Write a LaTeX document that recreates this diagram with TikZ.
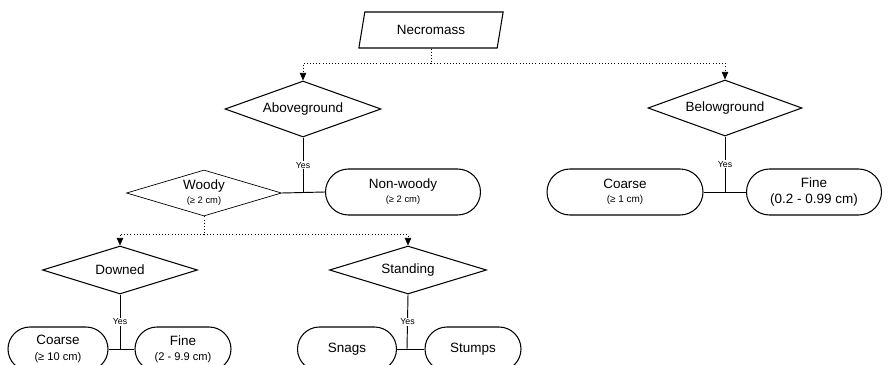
\documentclass[tikz,border=0pt]{standalone}
\usepackage{fontspec}
\setmainfont{Liberation Sans}
\usetikzlibrary{shapes.geometric,shapes.misc,arrows.meta}

\begin{document}
\begin{tikzpicture}[x=0.03cm,y=-0.03cm]

  \tikzset{dia/.style={draw, diamond, aspect=3, inner sep=0pt, line width=0.9pt, font=\fontsize{11.5}{13}\selectfont},
           term/.style={draw, rounded rectangle, inner sep=0pt, line width=0.9pt, align=center, font=\fontsize{11.5}{13}\selectfont},
           yes/.style={fill=white, inner sep=0.8pt, font=\fontsize{7.5}{8}\selectfont},
           flow/.style={dotted, line width=0.7pt},
           link/.style={line width=0.8pt},
           arr/.style={-{Triangle[length=6.5pt,width=5.5pt]}}}
  \useasboundingbox (0,0) rectangle (890,365);
%% Nodes
        \node[draw, trapezium, trapezium left angle=72, trapezium right angle=108, trapezium stretches, line width=0.9pt,
              minimum width=145*0.03cm, minimum height=36*0.03cm, inner sep=0pt, font=\fontsize{11.5}{13}\selectfont] (necro) at (431,30) {Necromass};
        \node[dia, minimum width=156*0.03cm, minimum height=56*0.03cm] (above) at (303,109) {Aboveground};
        \node[dia, minimum width=154*0.03cm, minimum height=56*0.03cm] (below) at (725,108) {Belowground};
        \node[dia, aspect=3.4, line width=0.6pt, align=center, minimum width=155*0.03cm, minimum height=46*0.03cm] (woody) at (204,193) {Woody\\[-1pt]{\fontsize{8}{9}\selectfont (≥ 2 cm)}};
        \node[term, minimum width=155*0.03cm, minimum height=46*0.03cm] (nonwoody) at (403,192) {Non-woody\\[-1pt]{\fontsize{8}{9}\selectfont (≥ 2 cm)}};
        \node[term, minimum width=156*0.03cm, minimum height=46*0.03cm] (bcoarse) at (625,192) {Coarse\\[-1pt]{\fontsize{8.5}{9}\selectfont (≥ 1 cm)}};
        \node[term, minimum width=135*0.03cm, minimum height=46*0.03cm] (bfine) at (814,192) {Fine\\(0.2 - 0.99 cm)};
        \node[dia, minimum width=155*0.03cm, minimum height=48*0.03cm] (downed) at (120,270) {Downed};
        \node[dia, minimum width=157*0.03cm, minimum height=48*0.03cm] (standing) at (408,270) {Standing};
        \node[term, minimum width=100*0.03cm, minimum height=44*0.03cm] (dcoarse) at (58,349) {Coarse\\{\fontsize{9.5}{10}\selectfont (≥ 10 cm)}};
        \node[term, minimum width=96*0.03cm, minimum height=44*0.03cm] (dfine) at (183,349) {Fine\\{\fontsize{9.5}{10}\selectfont (2 - 9.9 cm)}};
        \node[term, minimum width=99*0.03cm, minimum height=44*0.03cm] (snags) at (347,349) {Snags};
        \node[term, minimum width=96*0.03cm, minimum height=44*0.03cm] (stumps) at (473,349) {Stumps};
%% Junctions
        \coordinate (j0) at (431,63);
        \coordinate (j1) at (303,193);
        \coordinate (j2) at (204,234);
        \coordinate (j3) at (725,192);
        \coordinate (j4) at (120,349);
        \coordinate (j5) at (407,349);
%Edges
        \draw[flow] (j0 |- necro.south) -- (j0);
        \draw[flow, arr] (j0) -| (above.north);
        \draw[flow, arr] (j0) -| (below.north);
        \draw[link] (above.south) -- node[yes] {Yes} (j1);
        \draw[link] (woody.east) -- (nonwoody.west);
        \draw[link] (below.south) -- node[yes] {Yes} (j3);
        \draw[link] (bcoarse.east) -- (bfine.west);
        \draw[flow] (woody.south) -- (j2);
        \draw[flow, arr] (j2) -| (downed.north);
        \draw[flow, arr] (j2) -| (standing.north);
        \draw[link] (downed.south) -- node[yes] {Yes} (j4);
        \draw[link] (dcoarse.east) -- (dfine.west);
        \draw[link] (standing.south) -- node[yes] {Yes} (j5);
        \draw[link] (snags.east) -- (stumps.west);

\end{tikzpicture}
\end{document}
